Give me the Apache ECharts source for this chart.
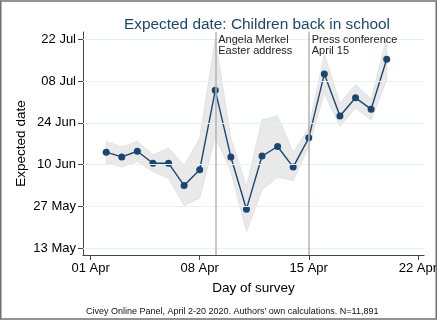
<!DOCTYPE html>
<html>
<head>
<meta charset="utf-8">
<script src="https://cdn.jsdelivr.net/npm/echarts@6/dist/echarts.min.js"></script>
<style>
  html, body { margin: 0; padding: 0; background: #fff; }
  #chart { width: 440px; height: 321px; }
</style>
</head>
<body>
<div id="chart"></div>
<script>
// Survey day (April 2020)
const surveyDay = [2, 3, 4, 5, 6, 7, 8, 9, 10, 11, 12, 13, 14, 15, 16, 17, 18, 19, 20];
// Expected reopening date, as day of year 2020 (134 = 13 May, 204 = 22 Jul)
const meanDate = [166.2, 164.6, 166.5, 162.5, 162.5, 155.0, 160.3, 186.9, 164.6, 147.1,
                  164.9, 168.1, 161.2, 171.0, 192.4, 178.3, 184.4, 180.6, 197.3];
const ciUpper  = [169.8, 167.9, 169.8, 165.3, 167.6, 161.7, 170.9, 204.0, 170.8, 154.7,
                  177.0, 178.4, 166.1, 174.3, 198.9, 182.7, 188.8, 184.0, 204.5];
const ciLower  = [162.5, 161.3, 163.1, 159.7, 157.5, 148.3, 150.8, 171.4, 159.7, 139.6,
                  153.6, 157.8, 156.7, 168.1, 186.0, 174.8, 181.0, 177.0, 190.4];

const xTickValues = [1, 8, 15, 22];
const xTickLabels = ['01 Apr', '08 Apr', '15 Apr', '22 Apr'];
const yTickValues = [134, 148, 162, 176, 190, 204];
const yTickLabels = ['13 May', '27 May', '10 Jun', '24 Jun', '08 Jul', '22 Jul'];

const events = [
  { day: 9,  text: 'Angela Merkel\nEaster address' },
  { day: 15, text: 'Press conference\nApril 15' }
];

const NAVY = '#1a476f';
const FONT = '"Liberation Sans", Arial, sans-serif';

const chart = echarts.init(document.getElementById('chart'), null, { renderer: 'canvas' });

const xMin = 0.511, xMax = 22.4, yMin = 131.75, yMax = 206.45;

function labelFor(values, labels) {
  return function (v) {
    const i = values.findIndex(t => Math.abs(t - v) < 1e-6);
    return i >= 0 ? labels[i] : '';
  };
}

// confidence band: one polygon along the upper bound and back along the lower bound
function renderBand(params, api) {
  const pts = [];
  for (let i = 0; i < surveyDay.length; i++) pts.push(api.coord([surveyDay[i], ciUpper[i]]));
  for (let i = surveyDay.length - 1; i >= 0; i--) pts.push(api.coord([surveyDay[i], ciLower[i]]));
  return {
    type: 'polygon',
    shape: { points: pts },
    style: { fill: '#e9e9e9', stroke: '#dddddd', lineWidth: 0.8 }
  };
}

const option = {
  animation: false,
  backgroundColor: '#fff',
  textStyle: { fontFamily: FONT },
  title: {
    text: 'Expected date: Children back in school',
    left: 252, top: 12, textAlign: 'center',
    textStyle: { color: NAVY, fontSize: 15.4, fontWeight: 'normal', fontFamily: FONT }
  },
  grid: { left: 83, right: 12, top: 32, bottom: 66 },
  xAxis: {
    type: 'value', min: xMin, max: xMax,
    name: 'Day of survey', nameLocation: 'middle', nameGap: 26,
    nameTextStyle: { color: '#000', fontSize: 13.5, fontFamily: FONT },
    axisLine: { show: true, onZero: false, lineStyle: { color: '#444', width: 1 } },
    axisTick: { show: true, length: 5, customValues: xTickValues, lineStyle: { color: '#444' } },
    axisLabel: { customValues: xTickValues, formatter: labelFor(xTickValues, xTickLabels),
                 color: '#000', fontSize: 13, margin: 7, fontFamily: FONT },
    splitLine: { show: false }
  },
  yAxis: {
    type: 'value', min: yMin, max: yMax,
    axisLine: { show: true, onZero: false, lineStyle: { color: '#444', width: 1 } },
    axisTick: { show: true, length: 5, customValues: yTickValues, lineStyle: { color: '#444' } },
    axisLabel: { customValues: yTickValues, formatter: labelFor(yTickValues, yTickLabels),
                 color: '#000', fontSize: 13, margin: 7, fontFamily: FONT },
    splitLine: { show: false }
  },
  series: [
    {
      // horizontal grid lines at the date ticks
      type: 'line', data: [], silent: true, z: 1,
      markLine: {
        silent: true, symbol: 'none', animation: false,
        label: { show: false },
        lineStyle: { color: '#e6eff1', width: 1, type: 'solid' },
        data: yTickValues.map(v => ({ yAxis: v }))
      }
    },
    {
      name: 'ciBand', type: 'custom', z: 2, silent: true,
      renderItem: renderBand,
      data: [0],
      clip: false
    },
    {
      // event markers
      type: 'line', data: [], silent: true, z: 3,
      markLine: {
        silent: true, symbol: 'none', animation: false,
        label: { show: false },
        lineStyle: { color: '#b3b3b3', width: 1.5, type: 'solid' },
        data: events.map(e => ({ xAxis: e.day }))
      }
    },
    {
      name: 'meanDate', type: 'line', z: 4,
      data: surveyDay.map((d, i) => [d, meanDate[i]]),
      symbol: 'circle', symbolSize: 7,
      itemStyle: { color: NAVY, borderWidth: 0 },
      lineStyle: { color: NAVY, width: 1.4 }
    }
  ]
};

chart.setOption(option);

// annotation texts next to the event lines, y-axis title, source note and outer frame
const graphics = events.map(e => {
  const p = chart.convertToPixel({ gridIndex: 0 }, [e.day, yMax]);
  return {
    type: 'text', x: p[0] + 3, y: p[1] + 2, z: 10,
    style: { text: e.text, fill: '#222', font: '11px ' + FONT, lineHeight: 11,
             textAlign: 'left', textVerticalAlign: 'top' }
  };
});
graphics.push({
  type: 'text', x: 21.5, y: 143.5, rotation: Math.PI / 2, z: 10,
  style: { text: 'Expected date', fill: '#000', font: '13.5px ' + FONT,
           textAlign: 'center', textVerticalAlign: 'middle' }
});
graphics.push({
  type: 'text', x: 86, y: 312, z: 10,
  style: { text: "Civey Online Panel, April 2-20 2020. Authors' own calculations. N=11,891",
           fill: '#111', font: '9px ' + FONT, textAlign: 'left', textVerticalAlign: 'middle' }
});
graphics.push({
  type: 'rect', z: 20, silent: true,
  shape: { x: 0.75, y: 1, width: 435.5, height: 318 },
  style: { fill: 'none', stroke: '#707070', lineWidth: 1.5 }
});
chart.setOption({ graphic: graphics });
</script>
</body>
</html>
